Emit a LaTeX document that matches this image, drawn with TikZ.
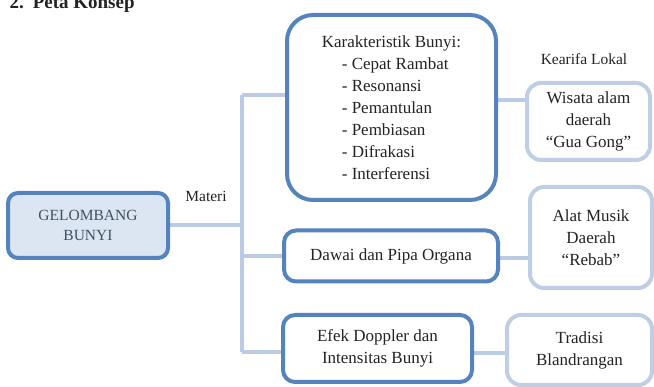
\documentclass[tikz,border=0pt]{standalone}
\usepackage{fontspec}
\setmainfont{Liberation Serif}
\definecolor{mainb}{RGB}{84,131,190}
\definecolor{lightb}{RGB}{190,207,229}
\definecolor{linec}{RGB}{185,204,228}
\definecolor{gelfill}{RGB}{220,230,242}
\definecolor{txt}{RGB}{35,35,35}
\definecolor{geltxt}{RGB}{68,80,98}
\begin{document}
\begin{tikzpicture}[x=1pt,y=-1pt,
  every node/.style={text=txt,font=\fontsize{17}{22}\selectfont},
  mainbox/.style={draw=mainb,line width=4pt,rounded corners=12pt,align=center,fill=white,inner sep=0pt},
  localbox/.style={draw=lightb,line width=4pt,rounded corners=14pt,align=center,fill=white,inner sep=0pt},
  conn/.style={draw=linec,line width=4pt},
  lbl/.style={font=\fontsize{15.5}{17}\selectfont}]
\useasboundingbox (0,0) rectangle (654,387);
\node[anchor=base west,font=\bfseries\fontsize{19}{22}\selectfont] (title) at (6,9) {2.\hspace{9pt}Peta Konsep};
% spine coordinates
\coordinate (s1) at (242,95);
\coordinate (s2) at (242,225);
\coordinate (s3) at (242,256);
\coordinate (s4) at (242,352);
% connectors (drawn first, behind boxes)
\draw[conn] (s1) -- (s4);
\draw[conn] (168,225) -- (s2);
\draw[conn] (s1) -- (290,95);
\draw[conn] (s3) -- (290,256);
\draw[conn] (s4) -- (290,352);
\draw[conn] (490,100) -- (530,100);
\draw[conn] (490,258) -- (533,258);
\draw[conn] (470,353) -- (510,353);
% boxes
\node[mainbox,fill=gelfill,rounded corners=10pt,minimum width=160pt,minimum height=65pt,text=geltxt,font=\fontsize{15.5}{20}\selectfont] (gel) at (88,225.5) {GELOMBANG\\BUNYI};
\node[mainbox,rounded corners=26pt,minimum width=209pt,minimum height=185pt,align=left] (kar) at (391.5,107.5)
  {Karakteristik Bunyi:\\
   \hspace*{20pt}- Cepat Rambat\\
   \hspace*{20pt}- Resonansi\\
   \hspace*{20pt}- Pemantulan\\
   \hspace*{20pt}- Pembiasan\\
   \hspace*{20pt}- Difrakasi\\
   \hspace*{20pt}- Interferensi};
\node[mainbox,minimum width=214pt,minimum height=51pt] (daw) at (391,256) {Dawai dan Pipa Organa};
\node[mainbox,minimum width=189pt,minimum height=67pt] (efek) at (377.5,348.5) {Efek Doppler dan\\Intensitas Bunyi};
\node[localbox,minimum width=123pt,minimum height=77pt] (wis) at (588.5,121.5) {Wisata alam\\daerah\\“Gua Gong”};
\node[localbox,minimum width=122pt,minimum height=101pt] (alat) at (591,237.5) {Alat Musik\\Daerah\\“Rebab”};
\node[localbox,minimum width=145pt,minimum height=70pt] (trad) at (579.5,350) {Tradisi\\Blandrangan};
% labels
\node[lbl] (materi) at (206,196) {Materi};
\node[lbl] (kearifan) at (584,59) {Kearifa Lokal};
\end{tikzpicture}
\end{document}
